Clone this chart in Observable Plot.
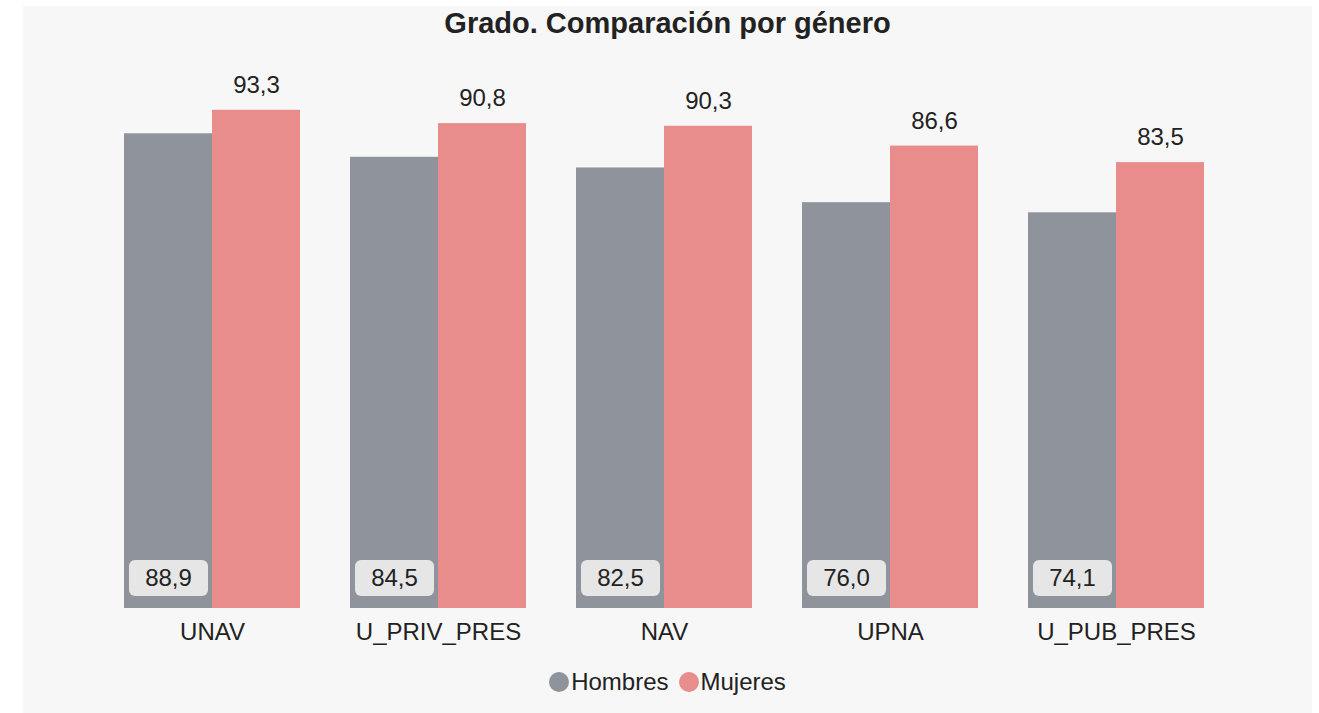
<!DOCTYPE html>
<html>
<head>
<meta charset="utf-8">
<script src="https://cdn.jsdelivr.net/npm/d3@7"></script>
<script src="https://cdn.jsdelivr.net/npm/@observablehq/plot@0.6"></script>
<style>
  html, body { margin: 0; padding: 0; background: #ffffff; }
  body { width: 1319px; height: 713px; overflow: hidden; font-family: "Liberation Sans", Arial, Helvetica, sans-serif; }
  #panel { position: absolute; left: 23px; top: 6px; width: 1289px; height: 707px; background: #f7f7f7; }
  #title { position: absolute; left: 0; width: 100%; top: 17px; transform: translateY(-50%); text-align: center; font-weight: bold; font-size: 29px; color: #222; line-height: 1; }
  #chart { position: absolute; left: 0; top: 0; }
  #legend { position: absolute; left: 0; width: 100%; top: 676px; transform: translateY(-50%); display: flex; justify-content: center; align-items: center; font-size: 24px; color: #222; }
  .item { display: flex; align-items: center; margin: 0 5px; }
  .sw { width: 20px; height: 20px; border-radius: 50%; margin-right: 2px; }
</style>
</head>
<body>
<div id="panel">
  <div id="chart"></div>
  <div id="title"></div>
  <div id="legend"></div>
</div>
<script>
const titleText = "Grado. Comparación por género";
const categories = ["UNAV", "U_PRIV_PRES", "NAV", "UPNA", "U_PUB_PRES"];
const series = ["Hombres", "Mujeres"];
const hombres = [88.9, 84.5, 82.5, 76.0, 74.1];
const mujeres = [93.3, 90.8, 90.3, 86.6, 83.5];
const colors = ["#8f939b", "#e88c8c"];

const fmt = v => v.toFixed(1).replace(".", ",");

const data = [];
categories.forEach((c, i) => {
  data.push({cat: c, gen: series[0], v: hombres[i]});
  data.push({cat: c, gen: series[1], v: mujeres[i]});
});
const hData = data.filter(d => d.gen === series[0]);
const mData = data.filter(d => d.gen === series[1]);

document.getElementById("title").textContent = titleText;

const plot = Plot.plot({
  width: 1289,
  height: 707,
  marginTop: 68,
  marginBottom: 105,
  marginLeft: 75,
  marginRight: 82,
  style: { background: "transparent", fontFamily: "'Liberation Sans', Arial, Helvetica, sans-serif", fontSize: "24px", color: "#222" },
  fx: { domain: categories, paddingInner: 0.223, paddingOuter: 0.1115, label: null, axis: "bottom", tickSize: 0, tickPadding: 14 },
  x: { domain: series, padding: 0, axis: null },
  y: { domain: [0, 100], axis: null },
  color: { domain: series, range: colors },
  marks: [
    Plot.barY(data, { fx: "cat", x: "gen", y: "v", fill: "gen" }),
    Plot.barY(hData, { fx: "cat", x: "gen", y1: 0, y2: 0, fill: "#e6e6e6", rx: 6, insetTop: -48, insetBottom: 12, insetLeft: 5, insetRight: 4 }),
    Plot.text(hData, { fx: "cat", x: "gen", y: 0, dy: -30, text: d => fmt(d.v), fill: "#222", fontSize: 24 }),
    Plot.text(mData, { fx: "cat", x: "gen", y: "v", dy: -25, text: d => fmt(d.v), fill: "#222", fontSize: 24 })
  ]
});
document.getElementById("chart").appendChild(plot);

const legend = document.getElementById("legend");
series.forEach((s, i) => {
  const item = document.createElement("div");
  item.className = "item";
  const sw = document.createElement("div");
  sw.className = "sw";
  sw.style.background = colors[i];
  const t = document.createElement("span");
  t.textContent = s;
  item.appendChild(sw);
  item.appendChild(t);
  legend.appendChild(item);
});
</script>
</body>
</html>
